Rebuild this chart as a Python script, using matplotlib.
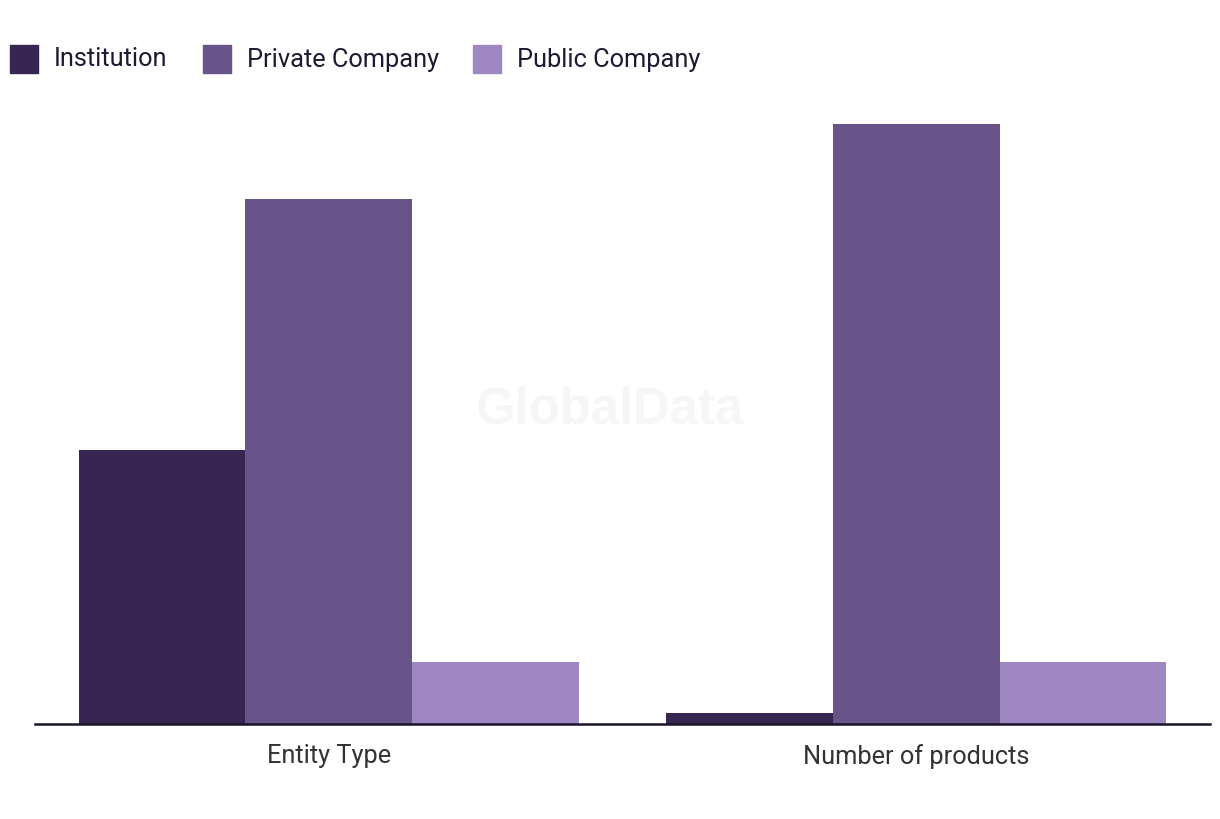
import matplotlib.pyplot as plt
import numpy as np
from matplotlib.patches import Rectangle

categories = ["Entity Type", "Number of products"]
series = ["Institution", "Private Company", "Public Company"]
institution = [44.9, 1.8]
private_company = [85.9, 98.2]
public_company = [10.0, 10.0]

colors = ["#372552", "#69548a", "#9f87c1"]

plt.rcParams["font.family"] = ["Roboto", "DejaVu Sans"]

W, H = 1220, 820
fig = plt.figure(figsize=(12.2, 8.2), dpi=100)
ax = fig.add_axes([35 / W, 95.5 / H, 1175 / W, 628.5 / H])

x = np.arange(len(categories))
width = 0.2836
values = [institution, private_company, public_company]
for i, (name, vals) in enumerate(zip(series, values)):
    ax.bar(x + (i - 1) * width, vals, width, color=colors[i], label=name)

ax.set_xlim(-0.5, 1.5)
ax.set_ylim(0, 103)
ax.set_yticks([])
ax.set_xticks(x, categories)
ax.tick_params(axis="x", length=0, pad=14, labelsize=18.3, labelcolor="#333333")
for side in ["top", "right", "left"]:
    ax.spines[side].set_visible(False)
ax.spines["bottom"].set_color("#1a1429")
ax.spines["bottom"].set_linewidth(1.8)

fig.text(610 / W, 1 - 410 / H, "GlobalData", ha="center", va="center",
         fontsize=36.5, fontweight="bold", color="#f6f6f6", family="Liberation Sans", zorder=0)

# legend drawn by hand: square swatch then label
legend_x = [10, 203, 473]
for lx, c, s in zip(legend_x, colors, series):
    fig.add_artist(Rectangle((lx / W, 1 - 73.5 / H), 28 / W, 28 / H, color=c,
                             transform=fig.transFigure))
    fig.text((lx + 44) / W, 1 - 59.5 / H, s, ha="left", va="center",
             fontsize=18.3, color="#1f1a33")

fig.savefig("out.png", dpi=100)
